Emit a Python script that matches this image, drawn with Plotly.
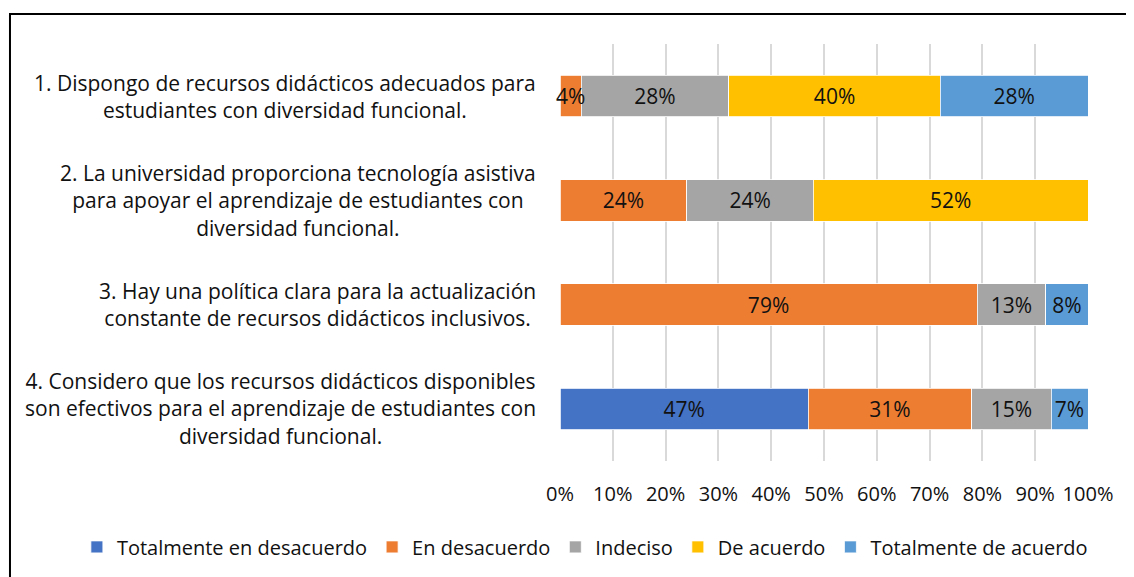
import plotly.graph_objects as go

# --------------------------------------------------------
# Data
# --------------------------------------------------------

categories = ["P1", "P2", "P3", "P4"]
category_labels = [
    "1. Dispongo de recursos didácticos adecuados para<br>estudiantes con diversidad funcional.",
    "2. La universidad proporciona tecnología asistiva<br>para apoyar el aprendizaje de estudiantes con<br>diversidad funcional.",
    "3. Hay una política clara para la actualización<br>constante de recursos didácticos inclusivos.",
    "4. Considero que los recursos didácticos disponibles<br>son efectivos para el aprendizaje de estudiantes con<br>diversidad funcional.",
]

series_names = ["Totalmente en desacuerdo", "En desacuerdo", "Indeciso",
                "De acuerdo", "Totalmente de acuerdo"]
totalmente_desacuerdo = [0, 0, 0, 47]
en_desacuerdo = [4, 24, 79, 31]
indeciso = [28, 24, 13, 15]
de_acuerdo = [40, 52, 0, 0]
totalmente_acuerdo = [28, 0, 8, 7]

series_values = [totalmente_desacuerdo, en_desacuerdo, indeciso,
                 de_acuerdo, totalmente_acuerdo]
colors = ["#4472C4", "#ED7D31", "#A5A5A5", "#FFC000", "#5B9BD5"]

FONT = "Open Sans"
TXT = "#111111"
SMALL = 6  # segments narrower than this get their label drawn on top

fig = go.Figure()

for name, vals, col in zip(series_names, series_values, colors):
    fig.add_trace(go.Bar(
        y=categories, x=vals, name=name, orientation="h",
        marker=dict(color=col, line=dict(color="white", width=0.8)),
        text=[f"{v}%" if v >= SMALL else "" for v in vals],
        textposition="inside", insidetextanchor="middle", textangle=0,
        textfont=dict(family=FONT, size=21, color=TXT),
        constraintext="none",
        hoverinfo="name+x",
    ))

# labels of tiny segments overflow the bar, so put them above all bars
for i, cat in enumerate(categories):
    start = 0
    for vals in series_values:
        v = vals[i]
        if 0 < v < SMALL:
            fig.add_annotation(
                x=start + v / 2, y=cat, text=f"{v}%", showarrow=False,
                font=dict(family=FONT, size=21, color=TXT),
            )
        start += v

# category labels, centred lines, right-aligned block
for cat, lab in zip(categories, category_labels):
    fig.add_annotation(
        x=0, xref="paper", y=cat, yref="y", text=lab,
        xanchor="right", yanchor="middle", align="center",
        xshift=-22, showarrow=False,
        font=dict(family=FONT, size=21, color=TXT),
    )

# outer border (partially cut by the window)
fig.add_shape(
    type="rect", xref="paper", yref="paper",
    x0=-1.0417, x1=1.5, y0=-0.5, y1=1.0719,
    line=dict(color="black", width=2), fillcolor="rgba(0,0,0,0)", layer="below",
)

fig.update_layout(
    width=1126, height=569,
    barmode="stack", bargap=0.6,
    plot_bgcolor="white", paper_bgcolor="white",
    margin=dict(l=552, r=46, t=36, b=116, autoexpand=False),
    font=dict(family=FONT, size=20, color=TXT),
    xaxis=dict(
        range=[0, 100], tickvals=list(range(0, 101, 10)),
        ticktext=[f"{v}%" for v in range(0, 101, 10)],
        showgrid=True, gridcolor="#d9d9d9", gridwidth=1.5,
        zeroline=False, ticks="", ticklabelstandoff=19,
        tickfont=dict(family=FONT, size=20, color=TXT),
    ),
    yaxis=dict(
        categoryorder="array", categoryarray=categories,
        autorange="reversed", showticklabels=False, showgrid=False,
        zeroline=False,
    ),
    legend=dict(
        orientation="h", xref="paper", x=-0.915, xanchor="left",
        yref="paper", y=-0.206, yanchor="middle", traceorder="normal",
        font=dict(family=FONT, size=20, color=TXT),
        itemwidth=30, tracegroupgap=0,
    ),
    showlegend=True,
)

fig.write_html("out.html")
